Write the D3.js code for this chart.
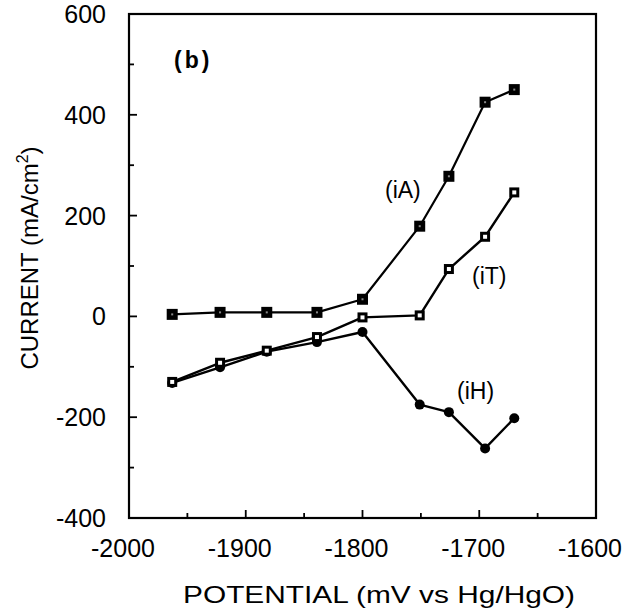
<!DOCTYPE html>
<html>
<head>
<meta charset="utf-8">
<script src="https://cdn.jsdelivr.net/npm/d3@7/dist/d3.min.js"></script>
<style>
  html, body { margin: 0; padding: 0; background: #fff; }
  svg { display: block; font-family: "Liberation Sans", Arial, Helvetica, sans-serif; }
</style>
</head>
<body>
<svg id="chart" width="625" height="615"></svg>
<script>
// Potential (mV vs Hg/HgO) and the three partial currents (mA/cm2)
const potentialA = [-1963, -1922, -1882, -1839, -1800, -1751, -1726, -1695, -1670];
const currentA   = [4, 8, 8, 8, 34, 179, 278, 425, 450];

const potentialT = [-1963, -1922, -1882, -1839, -1800, -1751, -1726, -1695, -1670];
const currentT   = [-130, -92, -68, -41, -2, 2, 94, 158, 246];

const potentialH = [-1963, -1922, -1882, -1839, -1800, -1751, -1726, -1695, -1670];
const currentH   = [-132, -101, -70, -51, -31, -175, -190, -262, -202];

const xTicks = [-2000, -1900, -1800, -1700, -1600];
const yTicks = [-400, -200, 0, 200, 400, 600];
const xMinor = [-1950, -1850, -1750, -1650];
const yMinor = [-300, -100, 100, 300, 500];

const svg = d3.select("#chart");
const plotL = 129, plotR = 596, plotT = 14, plotB = 518;

const x = d3.scaleLinear().domain([-2000, -1600]).range([plotL, plotR]);
const y = d3.scaleLinear().domain([-400, 600]).range([plotB, plotT]);

// frame
svg.append("rect")
  .attr("x", plotL).attr("y", plotT)
  .attr("width", plotR - plotL).attr("height", plotB - plotT)
  .attr("fill", "none").attr("stroke", "#000").attr("stroke-width", 2.2);

// inward ticks
const g = svg.append("g").attr("stroke", "#000").attr("stroke-width", 1.8);
xTicks.forEach(v => g.append("line").attr("x1", x(v)).attr("x2", x(v)).attr("y1", plotB).attr("y2", plotB - 8));
xMinor.forEach(v => g.append("line").attr("x1", x(v)).attr("x2", x(v)).attr("y1", plotB).attr("y2", plotB - 5));
yTicks.forEach(v => g.append("line").attr("y1", y(v)).attr("y2", y(v)).attr("x1", plotL).attr("x2", plotL + 8));
yMinor.forEach(v => g.append("line").attr("y1", y(v)).attr("y2", y(v)).attr("x1", plotL).attr("x2", plotL + 5));

// tick labels (digits centred under the tick, minus sign hanging left)
svg.append("g").selectAll("text").data(xTicks).join("text")
  .attr("x", d => x(d) - 6).attr("y", 557)
  .attr("text-anchor", "middle").attr("font-size", 25).attr("fill", "#000")
  .text(d => d);
svg.append("g").selectAll("text").data(yTicks).join("text")
  .attr("x", 106).attr("y", d => y(d) + 9)
  .attr("text-anchor", "end").attr("font-size", 25).attr("fill", "#000")
  .text(d => d);

// axis titles
svg.append("text")
  .attr("x", 183).attr("y", 603)
  .attr("font-size", 24).attr("fill", "#000")
  .attr("textLength", 392).attr("lengthAdjust", "spacingAndGlyphs")
  .text("POTENTIAL (mV vs Hg/HgO)");

const yt = svg.append("text")
  .attr("transform", "translate(38,258) rotate(-90)")
  .attr("text-anchor", "middle").attr("font-size", 24).attr("fill", "#000");
yt.append("tspan").text("CURRENT (mA/cm");
yt.append("tspan").attr("font-size", 16).attr("dy", -10).text("2");
yt.append("tspan").attr("dy", 10).text(")");

const line = d3.line().x(d => x(d[0])).y(d => y(d[1]));

function series(px, py, width) {
  const pts = px.map((v, i) => [v, py[i]]);
  svg.append("path").datum(pts).attr("d", line)
    .attr("fill", "none").attr("stroke", "#000").attr("stroke-width", width)
    .attr("stroke-linejoin", "round");
  return pts;
}

const ptsH = series(potentialH, currentH, 2.4);
const ptsT = series(potentialT, currentT, 2.4);
const ptsA = series(potentialA, currentA, 2.2);

// iH: filled circles
svg.append("g").selectAll("circle").data(ptsH).join("circle")
  .attr("cx", d => x(d[0])).attr("cy", d => y(d[1])).attr("r", 5).attr("fill", "#000");

// iT: open squares with heavy border
const gT = svg.append("g");
gT.selectAll("rect.o").data(ptsT).join("rect").attr("class", "o")
  .attr("x", d => x(d[0]) - 5).attr("y", d => y(d[1]) - 5)
  .attr("width", 10).attr("height", 10).attr("fill", "#000");
gT.selectAll("rect.i").data(ptsT).join("rect").attr("class", "i")
  .attr("x", d => x(d[0]) - 2).attr("y", d => y(d[1]) - 2)
  .attr("width", 4).attr("height", 4).attr("fill", "#fff");

// iA: filled squares with a tiny light center
const gA = svg.append("g");
gA.selectAll("rect.o").data(ptsA).join("rect").attr("class", "o")
  .attr("x", d => x(d[0]) - 5.5).attr("y", d => y(d[1]) - 5.5)
  .attr("width", 11).attr("height", 11).attr("fill", "#000");
gA.selectAll("rect.i").data(ptsA).join("rect").attr("class", "i")
  .attr("x", d => x(d[0]) - 1).attr("y", d => y(d[1]) - 1)
  .attr("width", 2).attr("height", 2).attr("fill", "#888");

// annotations
svg.append("text").attr("x", 174).attr("y", 68)
  .attr("font-size", 23).attr("font-weight", "bold").attr("fill", "#000")
  .attr("letter-spacing", 3).text("(b)");
svg.append("text").attr("x", 385).attr("y", 198).attr("font-size", 23).attr("fill", "#000").text("(iA)");
svg.append("text").attr("x", 472).attr("y", 284).attr("font-size", 23).attr("fill", "#000").text("(iT)");
svg.append("text").attr("x", 457).attr("y", 399).attr("font-size", 23).attr("fill", "#000").text("(iH)");
</script>
</body>
</html>
